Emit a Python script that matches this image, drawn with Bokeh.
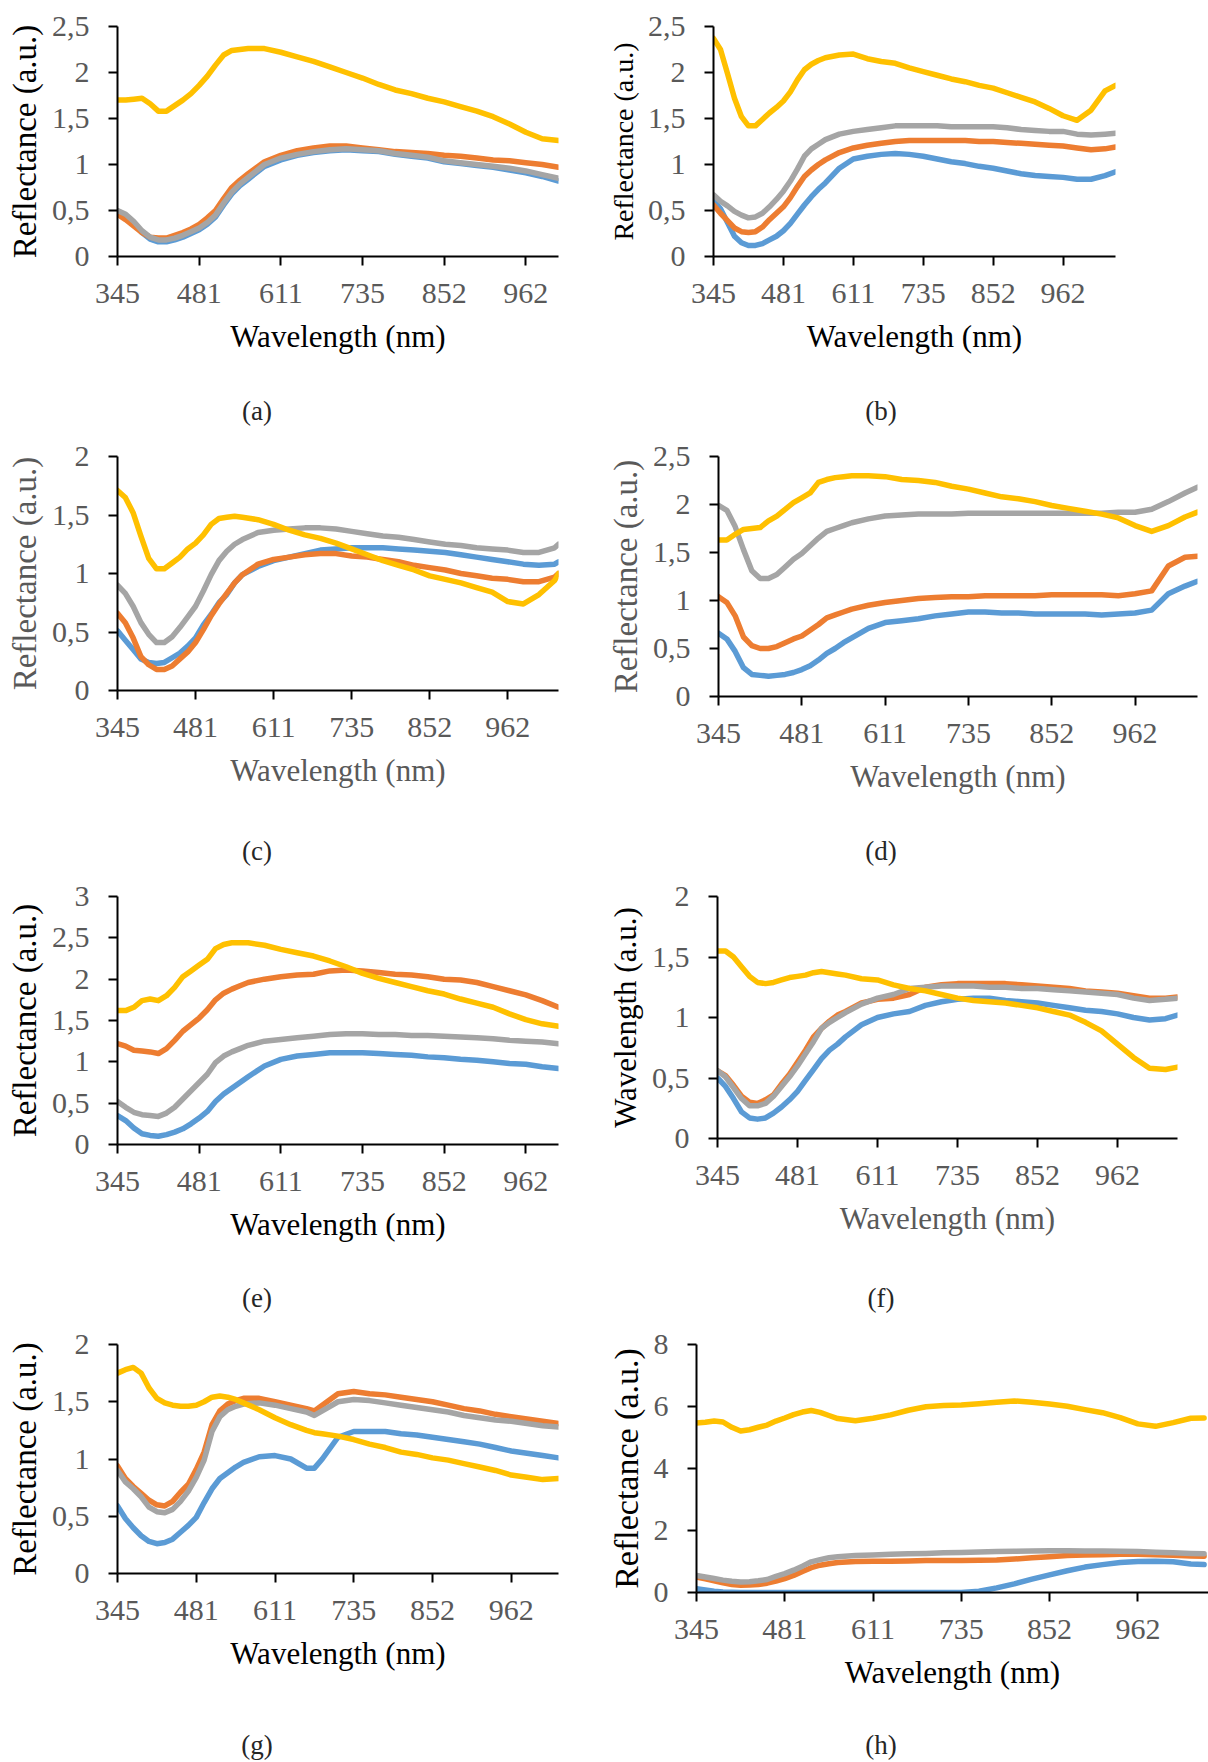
from bokeh.plotting import figure
from bokeh.layouts import column, row
from bokeh.models import Range1d, FixedTicker, Div
from bokeh.embed import file_html
from bokeh.resources import INLINE

# ---------------- data ----------------
# x positions are spectrometer channel indices; every 20 channels carries a wavelength label
tick_channels = [0, 20, 40, 60, 80, 100]
tick_labels = ["345", "481", "611", "735", "852", "962"]

ch_108 = list(range(0, 33, 2)) + list(range(36, 109, 4))
ch_113 = list(range(0, 33, 2)) + list(range(36, 113, 4)) + [113]
ch_115 = list(range(0, 33, 2)) + list(range(36, 113, 4)) + [115]
ch_g = list(range(0, 33, 2)) + [36, 40, 44, 48, 50, 52] + list(range(56, 113, 4))

# (a)
blue_a = [0.48, 0.44, 0.36, 0.26, 0.19, 0.16, 0.16, 0.18, 0.21, 0.25, 0.29, 0.35, 0.43, 0.56, 0.68, 0.77, 0.84,
          0.98, 1.05, 1.10, 1.13, 1.15, 1.16, 1.15, 1.14, 1.11, 1.09, 1.07, 1.03, 1.01, 0.99, 0.97, 0.94, 0.91, 0.87, 0.82]
orange_a = [0.46, 0.40, 0.33, 0.26, 0.21, 0.20, 0.20, 0.23, 0.26, 0.30, 0.35, 0.42, 0.50, 0.63, 0.75, 0.83, 0.90,
            1.03, 1.10, 1.15, 1.18, 1.20, 1.20, 1.18, 1.16, 1.14, 1.13, 1.12, 1.10, 1.09, 1.07, 1.05, 1.04, 1.02, 1.00, 0.97]
gray_a = [0.50, 0.46, 0.38, 0.28, 0.21, 0.18, 0.18, 0.20, 0.23, 0.27, 0.31, 0.37, 0.45, 0.58, 0.70, 0.79, 0.86,
          1.00, 1.07, 1.11, 1.14, 1.16, 1.17, 1.16, 1.15, 1.12, 1.10, 1.08, 1.04, 1.02, 1.00, 0.98, 0.96, 0.93, 0.89, 0.85]
yellow_a = [1.70, 1.70, 1.71, 1.72, 1.66, 1.58, 1.58, 1.64, 1.70, 1.77, 1.86, 1.96, 2.08, 2.19, 2.24, 2.25, 2.26,
            2.26, 2.22, 2.17, 2.12, 2.06, 2.00, 1.94, 1.87, 1.81, 1.77, 1.72, 1.68, 1.63, 1.58, 1.52, 1.44, 1.35, 1.28, 1.26]

# (b)
blue_b = [0.61, 0.52, 0.37, 0.22, 0.15, 0.12, 0.12, 0.14, 0.18, 0.22, 0.28, 0.36, 0.46, 0.56, 0.65, 0.73, 0.80,
          0.96, 1.06, 1.09, 1.11, 1.12, 1.11, 1.09, 1.06, 1.03, 1.01, 0.98, 0.96, 0.93, 0.90, 0.88, 0.87, 0.86,
          0.84, 0.84, 0.88, 0.92]
orange_b = [0.56, 0.47, 0.39, 0.31, 0.27, 0.26, 0.27, 0.32, 0.40, 0.47, 0.54, 0.64, 0.76, 0.87, 0.94, 1.00, 1.05,
            1.13, 1.18, 1.21, 1.23, 1.25, 1.26, 1.26, 1.26, 1.26, 1.26, 1.25, 1.25, 1.24, 1.23, 1.22, 1.21, 1.20,
            1.18, 1.16, 1.17, 1.19]
gray_b = [0.67, 0.60, 0.55, 0.49, 0.45, 0.42, 0.43, 0.47, 0.54, 0.62, 0.71, 0.82, 0.95, 1.09, 1.17, 1.22, 1.27,
          1.33, 1.36, 1.38, 1.40, 1.42, 1.42, 1.42, 1.42, 1.41, 1.41, 1.41, 1.41, 1.40, 1.38, 1.37, 1.36, 1.36,
          1.33, 1.32, 1.33, 1.34]
yellow_b = [2.37, 2.25, 1.99, 1.72, 1.52, 1.42, 1.42, 1.49, 1.56, 1.62, 1.69, 1.79, 1.92, 2.03, 2.09, 2.13, 2.16,
            2.19, 2.20, 2.15, 2.12, 2.10, 2.05, 2.01, 1.97, 1.93, 1.90, 1.86, 1.83, 1.78, 1.73, 1.68, 1.61, 1.53,
            1.48, 1.59, 1.80, 1.86]

# (c)
blue_c = [0.51, 0.43, 0.35, 0.27, 0.24, 0.23, 0.24, 0.28, 0.32, 0.38, 0.45, 0.56, 0.65, 0.75, 0.82, 0.92, 0.99,
          1.06, 1.11, 1.14, 1.17, 1.20, 1.21, 1.22, 1.22, 1.22, 1.21, 1.20, 1.19, 1.18, 1.16, 1.14, 1.12, 1.10,
          1.08, 1.07, 1.08, 1.10]
orange_c = [0.66, 0.58, 0.45, 0.29, 0.22, 0.18, 0.18, 0.21, 0.27, 0.33, 0.41, 0.52, 0.64, 0.74, 0.83, 0.92, 0.99,
            1.08, 1.12, 1.14, 1.16, 1.17, 1.17, 1.15, 1.14, 1.12, 1.10, 1.07, 1.05, 1.03, 1.00, 0.98, 0.96, 0.95,
            0.93, 0.93, 0.97, 1.00]
gray_c = [0.90, 0.83, 0.72, 0.58, 0.48, 0.41, 0.41, 0.46, 0.54, 0.63, 0.72, 0.85, 0.99, 1.11, 1.19, 1.25, 1.29,
          1.35, 1.37, 1.38, 1.39, 1.39, 1.38, 1.36, 1.34, 1.32, 1.31, 1.29, 1.27, 1.25, 1.24, 1.22, 1.21, 1.20,
          1.18, 1.18, 1.22, 1.25]
yellow_c = [1.71, 1.65, 1.52, 1.32, 1.13, 1.04, 1.04, 1.09, 1.14, 1.21, 1.26, 1.33, 1.42, 1.47, 1.48, 1.49, 1.48,
            1.46, 1.42, 1.37, 1.33, 1.30, 1.26, 1.21, 1.16, 1.11, 1.07, 1.03, 0.98, 0.95, 0.92, 0.88, 0.84, 0.76,
            0.74, 0.82, 0.94, 1.00]

# (d)
blue_d = [0.66, 0.60, 0.47, 0.30, 0.23, 0.22, 0.21, 0.22, 0.23, 0.25, 0.28, 0.32, 0.38, 0.45, 0.50, 0.56, 0.61,
          0.71, 0.77, 0.79, 0.81, 0.84, 0.86, 0.88, 0.88, 0.87, 0.87, 0.86, 0.86, 0.86, 0.86, 0.85, 0.86, 0.87,
          0.90, 1.07, 1.15, 1.20]
orange_d = [1.04, 0.98, 0.84, 0.62, 0.53, 0.50, 0.50, 0.52, 0.56, 0.60, 0.63, 0.69, 0.75, 0.82, 0.85, 0.88, 0.91,
            0.95, 0.98, 1.00, 1.02, 1.03, 1.04, 1.04, 1.05, 1.05, 1.05, 1.05, 1.06, 1.06, 1.06, 1.06, 1.05, 1.07,
            1.10, 1.36, 1.45, 1.46]
gray_d = [1.99, 1.94, 1.77, 1.53, 1.31, 1.23, 1.23, 1.27, 1.35, 1.43, 1.49, 1.57, 1.65, 1.72, 1.75, 1.78, 1.81,
          1.85, 1.88, 1.89, 1.90, 1.90, 1.90, 1.91, 1.91, 1.91, 1.91, 1.91, 1.91, 1.91, 1.91, 1.91, 1.92, 1.92,
          1.95, 2.03, 2.12, 2.18]
yellow_d = [1.63, 1.63, 1.69, 1.74, 1.75, 1.76, 1.83, 1.88, 1.95, 2.02, 2.07, 2.12, 2.23, 2.26, 2.28, 2.29, 2.30,
            2.30, 2.29, 2.26, 2.25, 2.23, 2.19, 2.16, 2.12, 2.08, 2.06, 2.03, 1.99, 1.96, 1.93, 1.90, 1.86, 1.78,
            1.72, 1.78, 1.87, 1.92]

# (e)
blue_e = [0.35, 0.29, 0.20, 0.13, 0.11, 0.10, 0.12, 0.15, 0.19, 0.25, 0.32, 0.40, 0.52, 0.61, 0.68, 0.75, 0.82,
          0.95, 1.03, 1.07, 1.09, 1.11, 1.11, 1.11, 1.10, 1.09, 1.08, 1.06, 1.05, 1.03, 1.02, 1.00, 0.98, 0.97, 0.94, 0.92]
orange_e = [1.22, 1.19, 1.14, 1.13, 1.12, 1.10, 1.16, 1.26, 1.37, 1.45, 1.53, 1.63, 1.75, 1.83, 1.88, 1.92, 1.96,
            2.00, 2.03, 2.05, 2.06, 2.10, 2.11, 2.10, 2.08, 2.06, 2.05, 2.03, 2.00, 1.99, 1.96, 1.91, 1.86, 1.81, 1.74, 1.66]
gray_e = [0.52, 0.45, 0.39, 0.36, 0.35, 0.34, 0.38, 0.45, 0.55, 0.65, 0.75, 0.85, 0.99, 1.07, 1.12, 1.16, 1.20,
          1.25, 1.27, 1.29, 1.31, 1.33, 1.34, 1.34, 1.33, 1.33, 1.32, 1.32, 1.31, 1.30, 1.29, 1.28, 1.26, 1.25, 1.24, 1.22]
yellow_e = [1.62, 1.62, 1.66, 1.74, 1.76, 1.74, 1.80, 1.90, 2.03, 2.10, 2.17, 2.24, 2.37, 2.42, 2.44, 2.44, 2.44,
            2.41, 2.36, 2.32, 2.28, 2.22, 2.15, 2.07, 2.01, 1.96, 1.91, 1.86, 1.82, 1.76, 1.71, 1.66, 1.58, 1.51, 1.46, 1.43]

# (f)
blue_f = [0.50, 0.43, 0.33, 0.22, 0.17, 0.16, 0.17, 0.21, 0.26, 0.32, 0.39, 0.48, 0.57, 0.66, 0.73, 0.78, 0.84,
          0.94, 1.00, 1.03, 1.05, 1.10, 1.13, 1.15, 1.16, 1.16, 1.14, 1.13, 1.12, 1.10, 1.08, 1.06, 1.05, 1.03,
          1.00, 0.98, 0.99, 1.02]
orange_f = [0.56, 0.52, 0.44, 0.35, 0.30, 0.29, 0.32, 0.36, 0.45, 0.53, 0.63, 0.73, 0.84, 0.91, 0.97, 1.02, 1.05,
            1.12, 1.15, 1.16, 1.19, 1.25, 1.27, 1.28, 1.28, 1.28, 1.28, 1.27, 1.26, 1.25, 1.24, 1.22, 1.21, 1.20,
            1.18, 1.16, 1.16, 1.17]
gray_f = [0.56, 0.51, 0.42, 0.33, 0.27, 0.27, 0.29, 0.35, 0.43, 0.51, 0.60, 0.70, 0.80, 0.91, 0.96, 1.00, 1.04,
          1.11, 1.16, 1.19, 1.24, 1.25, 1.26, 1.26, 1.26, 1.25, 1.25, 1.24, 1.24, 1.23, 1.22, 1.21, 1.20, 1.19,
          1.16, 1.14, 1.15, 1.16]
yellow_f = [1.55, 1.55, 1.50, 1.42, 1.34, 1.29, 1.28, 1.29, 1.31, 1.33, 1.34, 1.35, 1.37, 1.38, 1.37, 1.36, 1.35,
            1.32, 1.31, 1.27, 1.24, 1.22, 1.19, 1.16, 1.14, 1.13, 1.12, 1.10, 1.08, 1.05, 1.02, 0.96, 0.89, 0.78,
            0.67, 0.58, 0.57, 0.59]

# (g)
blue_g = [0.59, 0.48, 0.40, 0.33, 0.28, 0.26, 0.27, 0.30, 0.36, 0.42, 0.49, 0.62, 0.74, 0.83, 0.88, 0.93, 0.97,
          1.02, 1.03, 1.00, 0.92, 0.92, 1.00, 1.19, 1.24, 1.24, 1.24, 1.22, 1.21, 1.19, 1.17, 1.15, 1.13, 1.10,
          1.07, 1.05, 1.03, 1.01]
orange_g = [0.94, 0.83, 0.76, 0.70, 0.64, 0.60, 0.59, 0.63, 0.71, 0.78, 0.91, 1.06, 1.30, 1.42, 1.48, 1.51, 1.53,
            1.53, 1.50, 1.47, 1.44, 1.42, 1.47, 1.57, 1.59, 1.57, 1.56, 1.54, 1.52, 1.50, 1.47, 1.44, 1.42, 1.39,
            1.37, 1.35, 1.33, 1.31]
gray_g = [0.90, 0.80, 0.74, 0.67, 0.58, 0.54, 0.53, 0.56, 0.63, 0.72, 0.84, 0.99, 1.24, 1.37, 1.43, 1.46, 1.48,
          1.49, 1.47, 1.44, 1.41, 1.38, 1.42, 1.50, 1.52, 1.51, 1.49, 1.47, 1.45, 1.43, 1.41, 1.38, 1.36, 1.34,
          1.33, 1.31, 1.29, 1.28]
yellow_g = [1.75, 1.78, 1.80, 1.75, 1.62, 1.53, 1.49, 1.47, 1.46, 1.46, 1.47, 1.50, 1.54, 1.55, 1.54, 1.52, 1.49,
            1.43, 1.36, 1.30, 1.25, 1.23, 1.22, 1.20, 1.17, 1.13, 1.10, 1.06, 1.04, 1.01, 0.99, 0.96, 0.93, 0.90,
            0.86, 0.84, 0.82, 0.83]

# (h)
blue_h = [0.12, 0.08, 0.04, 0.02, 0.01, 0.0, 0.0, 0.0, 0.0, 0.0, 0.0, 0.0, 0.0, 0.0, 0.0, 0.0, 0.0,
          0.0, 0.0, 0.0, 0.0, 0.0, 0.0, 0.0, 0.04, 0.15, 0.28, 0.43, 0.57, 0.70, 0.82, 0.90, 0.97, 1.00,
          1.01, 0.99, 0.92, 0.90]
orange_h = [0.50, 0.44, 0.38, 0.31, 0.26, 0.23, 0.24, 0.26, 0.30, 0.37, 0.45, 0.55, 0.68, 0.80, 0.88, 0.93, 0.97,
            1.00, 1.01, 1.01, 1.02, 1.03, 1.03, 1.03, 1.04, 1.05, 1.08, 1.12, 1.15, 1.19, 1.21, 1.22, 1.23, 1.23,
            1.22, 1.20, 1.18, 1.17]
gray_h = [0.55, 0.50, 0.45, 0.40, 0.36, 0.34, 0.35, 0.38, 0.42, 0.52, 0.61, 0.72, 0.85, 0.99, 1.06, 1.12, 1.15,
          1.19, 1.21, 1.23, 1.25, 1.26, 1.28, 1.29, 1.31, 1.32, 1.33, 1.34, 1.35, 1.35, 1.34, 1.34, 1.33, 1.32,
          1.30, 1.28, 1.26, 1.25]
yellow_h = [5.47, 5.49, 5.53, 5.50, 5.33, 5.21, 5.25, 5.33, 5.40, 5.53, 5.63, 5.74, 5.82, 5.87, 5.81, 5.71, 5.61,
            5.54, 5.62, 5.73, 5.88, 5.99, 6.03, 6.05, 6.09, 6.14, 6.18, 6.14, 6.08, 6.01, 5.90, 5.80, 5.64, 5.44,
            5.36, 5.48, 5.62, 5.63]

# ---------------- styling ----------------
COLORS = ["#5B9BD5", "#ED7D31", "#A5A5A5", "#FFC000"]
FONT = "Liberation Serif"
BLACK = "#000000"
GREY_TXT = "#595959"


def fmt(v):
    return ("%g" % v).replace(".", ",")


def make_panel(ch, series, cfg):
    w, h = cfg["size"]
    left, right, top, frame_bottom = cfg["frame"]
    cap_x, cap_y = cfg["caption_pos"]
    fig_h = cap_y - 15
    p = figure(width=w, height=fig_h, output_backend="svg", toolbar_location=None,
               x_range=Range1d(0, cfg["xend"]), y_range=Range1d(0, cfg["ymax"]),
               min_border_left=left, min_border_right=right,
               min_border_top=top, min_border_bottom=fig_h - frame_bottom)
    p.outline_line_color = None
    p.xgrid.visible = False
    p.ygrid.visible = False
    p.background_fill_color = "white"
    p.border_fill_color = "white"
    for ys, c in zip(series, COLORS):
        p.line(ch, ys, line_color=c, line_width=5.5, line_join="round", line_cap="round")

    yticks = []
    v = 0.0
    while v <= cfg["ymax"] + 1e-9:
        yticks.append(round(v, 3))
        v += cfg["ystep"]

    for ax in (p.xaxis[0], p.yaxis[0]):
        ax.axis_line_color = BLACK
        ax.axis_line_width = 2
        ax.major_tick_line_color = BLACK
        ax.major_tick_line_width = 2
        ax.major_tick_out = 9
        ax.major_tick_in = 0
        ax.minor_tick_line_color = None
        ax.major_label_text_font = FONT
        ax.major_label_text_font_size = "30px"
        ax.major_label_text_color = GREY_TXT
        ax.axis_label_text_font = FONT
        ax.axis_label_text_font_style = "normal"

    xa = p.xaxis[0]
    xa.ticker = FixedTicker(ticks=tick_channels)
    xa.major_label_overrides = {t: l for t, l in zip(tick_channels, tick_labels)}
    xa.major_label_standoff = 18
    xa.axis_label = "Wavelength (nm)"
    xa.axis_label_text_font_size = "31px"
    xa.axis_label_text_color = cfg["xcolor"]
    xa.axis_label_standoff = 13

    ya = p.yaxis[0]
    ya.ticker = FixedTicker(ticks=yticks)
    ya.major_label_overrides = {t: fmt(t) for t in yticks}
    ya.major_label_standoff = 19
    ya.axis_label = cfg["ylabel"]
    ya.axis_label_text_font_size = cfg["ysize"]
    ya.axis_label_text_color = cfg["ycolor"]
    ya.axis_label_standoff = 6

    cap = Div(text=cfg["caption"], width=2 * cap_x, height=h - fig_h, margin=0,
              styles={"font-family": FONT, "font-size": "27px", "line-height": "30px",
                      "color": "#262626", "text-align": "center", "margin": "0", "padding": "0"})
    return column(p, cap, spacing=0)


cfgs = {
    "a": dict(size=(604, 440), frame=(117, 46, 26, 256), xend=108, ymax=2.5, ystep=0.5,
              ylabel="Reflectance (a.u.)", ysize="33px", ycolor=BLACK, xcolor=BLACK,
              caption="(a)", caption_pos=(257, 411)),
    "b": dict(size=(604, 440), frame=(106, 93, 26, 256), xend=115, ymax=2.5, ystep=0.5,
              ylabel="Reflectance (a.u.)", ysize="28px", ycolor=BLACK, xcolor=BLACK,
              caption="(b)", caption_pos=(277, 411)),
    "c": dict(size=(604, 440), frame=(117, 46, 16, 250), xend=113, ymax=2.0, ystep=0.5,
              ylabel="Reflectance (a.u.)", ysize="33px", ycolor=GREY_TXT, xcolor=GREY_TXT,
              caption="(c)", caption_pos=(257, 411)),
    "d": dict(size=(604, 440), frame=(112, 11, 16, 256), xend=115, ymax=2.5, ystep=0.5,
              ylabel="Reflectance (a.u.)", ysize="33px", ycolor=GREY_TXT, xcolor=GREY_TXT,
              caption="(d)", caption_pos=(277, 411)),
    "e": dict(size=(604, 440), frame=(117, 46, 16, 264), xend=108, ymax=3.0, ystep=0.5,
              ylabel="Reflectance (a.u.)", ysize="33px", ycolor=BLACK, xcolor=BLACK,
              caption="(e)", caption_pos=(257, 418)),
    "f": dict(size=(604, 440), frame=(112, 31, 16, 258), xend=115, ymax=2.0, ystep=0.5,
              ylabel="Wavelength (a.u.)", ysize="31px", ycolor=BLACK, xcolor=GREY_TXT,
              caption="(f)", caption_pos=(277, 418)),
    "g": dict(size=(604, 442), frame=(117, 46, 24, 253), xend=112, ymax=2.0, ystep=0.5,
              ylabel="Reflectance (a.u.)", ysize="33px", ycolor=BLACK, xcolor=BLACK,
              caption="(g)", caption_pos=(257, 425)),
    "h": dict(size=(604, 442), frame=(89, 0, 24, 272), xend=116, ymax=8.0, ystep=2.0,
              ylabel="Reflectance (a.u.)", ysize="34px", ycolor=BLACK, xcolor=BLACK,
              caption="(h)", caption_pos=(277, 425)),
}

pa = make_panel(ch_108, [blue_a, orange_a, gray_a, yellow_a], cfgs["a"])
pb = make_panel(ch_115, [blue_b, orange_b, gray_b, yellow_b], cfgs["b"])
pc = make_panel(ch_113, [blue_c, orange_c, gray_c, yellow_c], cfgs["c"])
pd = make_panel(ch_115, [blue_d, orange_d, gray_d, yellow_d], cfgs["d"])
pe = make_panel(ch_108, [blue_e, orange_e, gray_e, yellow_e], cfgs["e"])
pf = make_panel(ch_115, [blue_f, orange_f, gray_f, yellow_f], cfgs["f"])
pg = make_panel(ch_g, [blue_g, orange_g, gray_g, yellow_g], cfgs["g"])
ph = make_panel(ch_115, [blue_h, orange_h, gray_h, yellow_h], cfgs["h"])

layout = column(row(pa, pb, spacing=0), row(pc, pd, spacing=0), row(pe, pf, spacing=0),
                row(pg, ph, spacing=0), spacing=0)

open("out.html", "w").write(file_html(layout, INLINE))
